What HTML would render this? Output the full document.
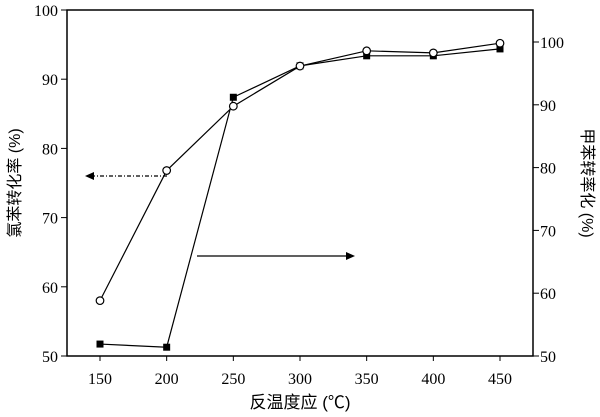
<!DOCTYPE html>
<html><head><meta charset="utf-8"><style>
body{margin:0;background:#fff;}
svg{display:block;font-family:"Liberation Serif","Noto Serif CJK SC",serif;}
.cj{font-family:"Liberation Sans","Noto Sans CJK SC",sans-serif;}
</style></head><body>
<svg width="600" height="417" viewBox="0 0 600 417">
<script>
const categories=[150,200,250,300,350,400,450];
const chloroValues=[58.0,76.8,86.1,91.9,94.1,93.8,95.2];
const tolueneValues=[51.9,51.4,91.2,96.2,97.8,97.8,98.9];
const leftTicks=[50,60,70,80,90,100];
const rightTicks=[50,60,70,80,90,100];
</script>
<rect x="67" y="10" width="466" height="346" fill="none" stroke="#000" stroke-width="1.5"/>
<g id="g"></g>
<text class="cj" x="0" y="0" transform="translate(20,183) rotate(-90)" text-anchor="middle" font-size="16">氯苯转化率 (%)</text>
<text class="cj" x="0" y="0" transform="translate(582,183) rotate(90)" text-anchor="middle" font-size="16">甲苯转率化 (%)</text>
<text class="cj" x="300" y="408" text-anchor="middle" font-size="17">反温度应 (℃)</text>
<line x1="167" y1="176" x2="92" y2="176" stroke="#000" stroke-width="1.3" stroke-dasharray="4,2,1,2"/>
<polygon points="85,176 94,172 94,180" fill="#000"/>
<line x1="197" y1="256" x2="348" y2="256" stroke="#000" stroke-width="1.3"/>
<polygon points="355,256 346,252 346,260" fill="#000"/>
<script>
const NS='http://www.w3.org/2000/svg';
const g=document.getElementById('g');
const X=v=>100+(v-150)*(400/300);
const YL=v=>356-(v-50)*(346/50);
const YR=v=>356-(v-50)*(314/50);
function mk(t,a){const e=document.createElementNS(NS,t);for(const k in a)e.setAttribute(k,a[k]);g.appendChild(e);return e;}
categories.forEach(c=>{
 const t=mk('line',{x1:X(c),x2:X(c),y1:356,y2:361,stroke:'#000'});
 
 
 const l=mk('text',{x:X(c),y:384,'text-anchor':'middle','font-size':16});
 
 
 l.textContent=c;
});
leftTicks.forEach(v=>{
 const t=mk('line',{x1:61,x2:67,y1:YL(v),y2:YL(v),stroke:'#000'});
 
 
 const l=mk('text',{x:58,y:YL(v)+6,'text-anchor':'end','font-size':16});
 
 
 l.textContent=v;
});
rightTicks.forEach(v=>{
 const t=mk('line',{x1:533,x2:539,y1:YR(v),y2:YR(v),stroke:'#000'});
 
 
 const l=mk('text',{x:540,y:YR(v)+6,'font-size':16});
 
 
 l.textContent=v;
});
const pc=categories.map((c,i)=>X(c)+','+YL(chloroValues[i])).join(' ');
const l1=mk('polyline',{points:pc,fill:'none',stroke:'#000','stroke-width':1.2});


const pt=categories.map((c,i)=>X(c)+','+YR(tolueneValues[i])).join(' ');
const l2=mk('polyline',{points:pt,fill:'none',stroke:'#000','stroke-width':1.2});


categories.forEach((c,i)=>{
 const s=mk('rect',{x:X(c)-3.5,y:YR(tolueneValues[i])-3.5,width:7,height:7,fill:'#000'});
 
 
});
categories.forEach((c,i)=>{
 const p=mk('circle',{cx:X(c),cy:YL(chloroValues[i]),r:3.8,fill:'#fff',stroke:'#000','stroke-width':1.2});
 
 
});
</script>
</svg>
</body></html>
